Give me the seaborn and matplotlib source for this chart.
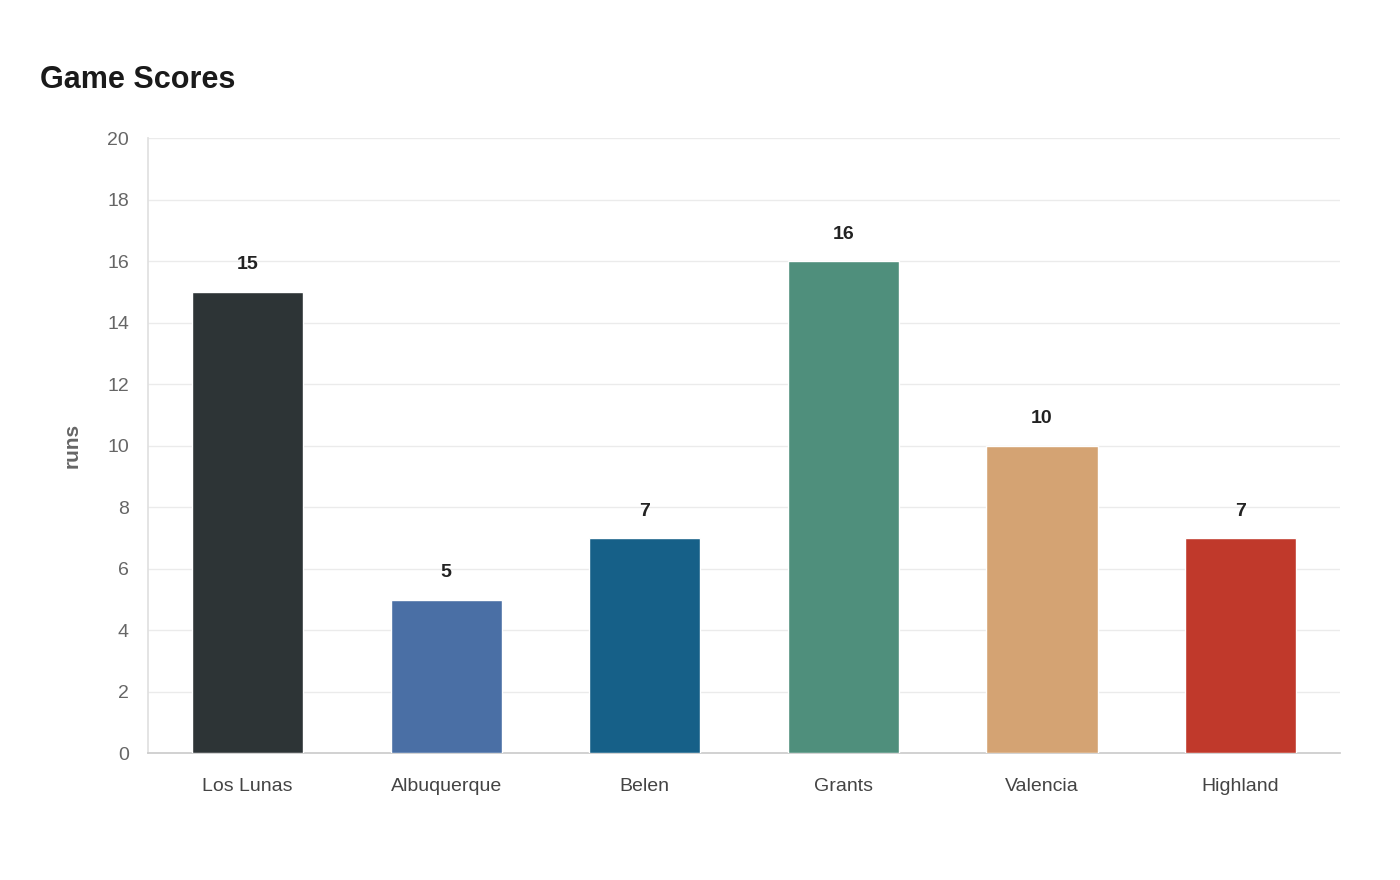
import matplotlib
matplotlib.use("Agg")
import matplotlib.pyplot as plt
import seaborn as sns
import pandas as pd

teams = ["Los Lunas", "Albuquerque", "Belen", "Grants", "Valencia", "Highland"]
runs = [15, 5, 7, 16, 10, 7]
colors = ["#2d3436", "#4a6fa5", "#166088", "#4f8f7c", "#d4a373", "#c0392b"]

sns.set_theme(style="white")
plt.rcParams['font.family'] = ['Liberation Sans', 'DejaVu Sans']

fig = plt.figure(figsize=(14, 8.8), dpi=100)
ax = fig.add_axes([0.106, 0.144, 0.851, 0.699])
df = pd.DataFrame({"team": teams, "runs": runs})
sns.barplot(data=df, x="team", y="runs", hue="team", palette=colors, legend=False,
            width=0.56, ax=ax, saturation=1, zorder=3)
ax.set_ylim(0, 20)
ax.set_yticks(range(0, 21, 2))
ax.grid(axis="y", color="#ebebeb", linewidth=1, zorder=0)
for s in ["top", "right"]:
    ax.spines[s].set_visible(False)
ax.spines["left"].set_color("#e0e0e0")
ax.spines["bottom"].set_color("#cccccc")
ax.tick_params(axis="y", labelsize=14, labelcolor="#666666", length=0, pad=14)
ax.tick_params(axis="x", labelsize=14, labelcolor="#444444", length=0, pad=18)
ax.set_xlabel("")
ax.set_ylabel("runs", fontsize=15, fontweight="bold", color="#666666", labelpad=18)
for i, v in enumerate(runs):
    ax.text(i, v + 0.6, str(v), ha="center", va="bottom", fontsize=14,
            fontweight="bold", color="#222222")
fig.text(40/1400, 1 - 80/880, "Game Scores", fontsize=22, fontweight="bold",
         color="#1a1a1a", va="center", ha="left")
fig.savefig("out.png", dpi=100)
